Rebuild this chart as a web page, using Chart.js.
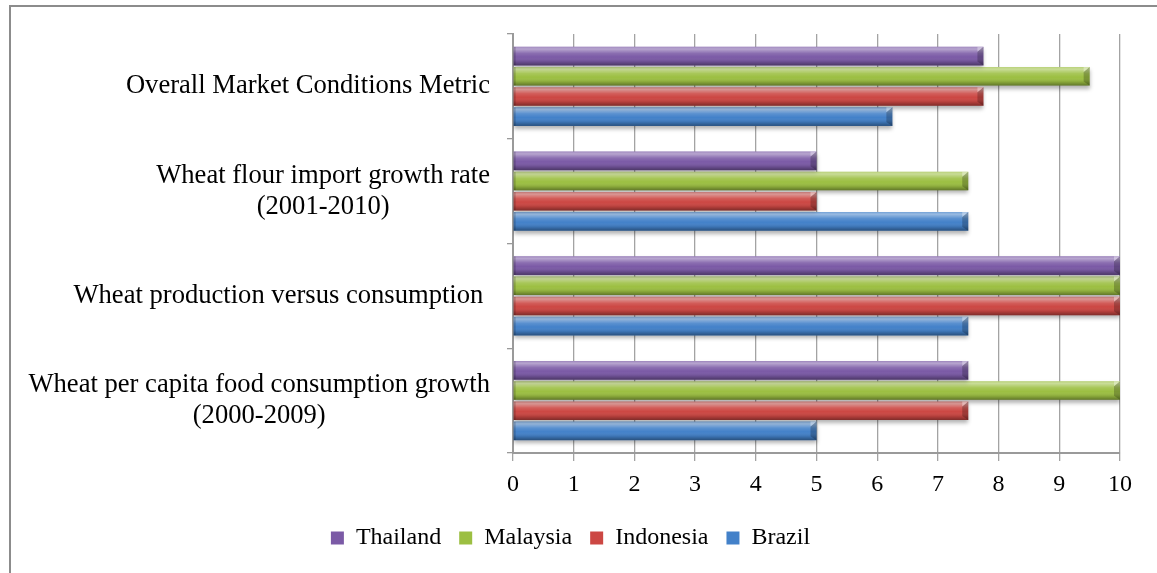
<!DOCTYPE html>
<html>
<head>
<meta charset="utf-8">
<title>Market Conditions Rating</title>
<script src="https://cdn.jsdelivr.net/npm/chart.js@4"></script>
<style>
    html, body { margin: 0; padding: 0; background: #fff; }
    #frame {
        position: absolute; left: 9px; top: 5px; width: 1148px; height: 568px;
        border-left: 2px solid #8c8c8c; border-top: 2px solid #8c8c8c;
    }
    #wrap { position: absolute; left: 11px; top: 7px; width: 1146px; height: 566px; }
</style>
</head>
<body>
<div id="frame"></div>
<div id="wrap"><canvas id="marketChart"></canvas></div>

<script>
// ==============================
// DATA
// ==============================
const categories = [
    ["Overall Market Conditions Metric"],
    ["Wheat flour import growth rate", "(2001-2010)"],
    ["Wheat production versus consumption "],
    ["Wheat per capita food consumption growth", "(2000-2009)"]
];

const seriesNames = ["Thailand", "Malaysia", "Indonesia", "Brazil"];

const thailand  = [7.75, 5,   10,  7.5];
const malaysia  = [9.5,  7.5, 10,  10];
const indonesia = [7.75, 5,   10,  7.5];
const brazil    = [6.25, 7.5, 7.5, 5];

const xTicks = [0, 1, 2, 3, 4, 5, 6, 7, 8, 9, 10];

const colors = ["#7b5aa6", "#9cbf42", "#cc4743", "#4381c9"];

const SERIF = '"Liberation Serif", "Times New Roman", serif';


// ==============================
// PLUGINS
// ==============================

// soft shadow under each bar
const barShadow = {
    id: "barShadow",
    beforeDatasetDraw(chart) {
        const c = chart.ctx;
        c.save();
        c.shadowColor = "rgba(0,0,0,0.30)";
        c.shadowBlur = 4;
        c.shadowOffsetY = 3;
    },
    afterDatasetDraw(chart) {
        chart.ctx.restore();
    }
};

// bevel look on top of the flat bars
const barBevel = {
    id: "barBevel",
    afterDatasetsDraw(chart) {
        const c = chart.ctx;
        c.save();
        chart.data.datasets.forEach((ds, di) => {
            const meta = chart.getDatasetMeta(di);
            meta.data.forEach(bar => {
                const top = bar.y - bar.height / 2;
                const h = bar.height;
                const left = Math.min(bar.base, bar.x);
                const w = Math.abs(bar.x - bar.base);

                const g = c.createLinearGradient(0, top, 0, top + h);
                g.addColorStop(0, "rgba(255,255,255,0.30)");
                g.addColorStop(0.12, "rgba(255,255,255,0.45)");
                g.addColorStop(0.35, "rgba(255,255,255,0.12)");
                g.addColorStop(0.55, "rgba(255,255,255,0)");
                g.addColorStop(0.8, "rgba(0,0,0,0.12)");
                g.addColorStop(1, "rgba(0,0,0,0.38)");
                c.fillStyle = g;
                c.fillRect(left, top, w, h);

                // chamfered right end
                c.fillStyle = "rgba(0,0,0,0.22)";
                c.beginPath();
                c.moveTo(left + w - 6, top + 5);
                c.lineTo(left + w, top);
                c.lineTo(left + w, top + h);
                c.lineTo(left + w - 6, top + h - 4);
                c.closePath();
                c.fill();
                c.fillStyle = "rgba(255,255,255,0.35)";
                c.beginPath();
                c.moveTo(left + w - 6, top);
                c.lineTo(left + w, top);
                c.lineTo(left + w - 6, top + 5);
                c.closePath();
                c.fill();

                // left end bevel
                c.fillStyle = "rgba(0,0,0,0.18)";
                c.fillRect(left, top, 2, h);
            });
        });
        c.restore();
    }
};

// category labels: block right aligned, lines centred inside the block
const categoryLabels = {
    id: "categoryLabels",
    afterDraw(chart) {
        const yScale = chart.scales.y;
        const c = chart.ctx;
        c.save();
        c.font = "26.6px " + SERIF;
        c.fillStyle = "#000";
        c.textBaseline = "middle";
        c.textAlign = "center";
        const right = yScale.right - 23;
        const lineH = 31;
        categories.forEach((lines, i) => {
            const yc = yScale.getPixelForValue(i);
            const blockW = Math.max(...lines.map(l => c.measureText(l).width));
            const cx = right - blockW / 2;
            lines.forEach((line, j) => {
                c.fillText(line, cx, yc + (j - (lines.length - 1) / 2) * lineH);
            });
        });
        c.restore();
    }
};


// ==============================
// CHART
// ==============================
const seriesValues = [thailand, malaysia, indonesia, brazil];

const ctx = document.getElementById("marketChart");

new Chart(ctx, {
    type: "bar",
    data: {
        labels: categories,
        datasets: seriesNames.map((name, i) => ({
            label: name,
            data: seriesValues[i],
            backgroundColor: colors[i],
            borderWidth: 0
        }))
    },
    options: {
        indexAxis: "y",
        responsive: true,
        maintainAspectRatio: false,
        animation: false,
        layout: { padding: { top: 27, right: 37, left: 10, bottom: 13 } },
        datasets: {
            bar: { categoryPercentage: 0.77, barPercentage: 0.92 }
        },
        scales: {
            x: {
                min: xTicks[0],
                max: xTicks[xTicks.length - 1],
                afterBuildTicks: scale => {
                    scale.ticks = xTicks.map(v => ({ value: v }));
                },
                afterFit: scale => { scale.height = 55; },
                ticks: {
                    color: "#000",
                    font: { family: SERIF, size: 24 },
                    padding: 9,
                    maxRotation: 0
                },
                grid: { color: "#a3a3a3", lineWidth: 1.3, tickLength: 8 },
                border: { color: "#9a9a9a", width: 2 }
            },
            y: {
                ticks: { display: false },
                grid: { drawOnChartArea: false, tickLength: 6, color: "#9a9a9a", lineWidth: 1.3 },
                border: { color: "#9a9a9a", width: 2 },
                afterFit: scale => { scale.width = 492; }
            }
        },
        plugins: {
            legend: {
                position: "bottom",
                labels: {
                    color: "#000",
                    font: { family: SERIF, size: 24 },
                    boxWidth: 13,
                    boxHeight: 13,
                    padding: 18
                }
            },
            tooltip: { enabled: false }
        }
    },
    plugins: [barShadow, barBevel, categoryLabels]
});
</script>
</body>
</html>
